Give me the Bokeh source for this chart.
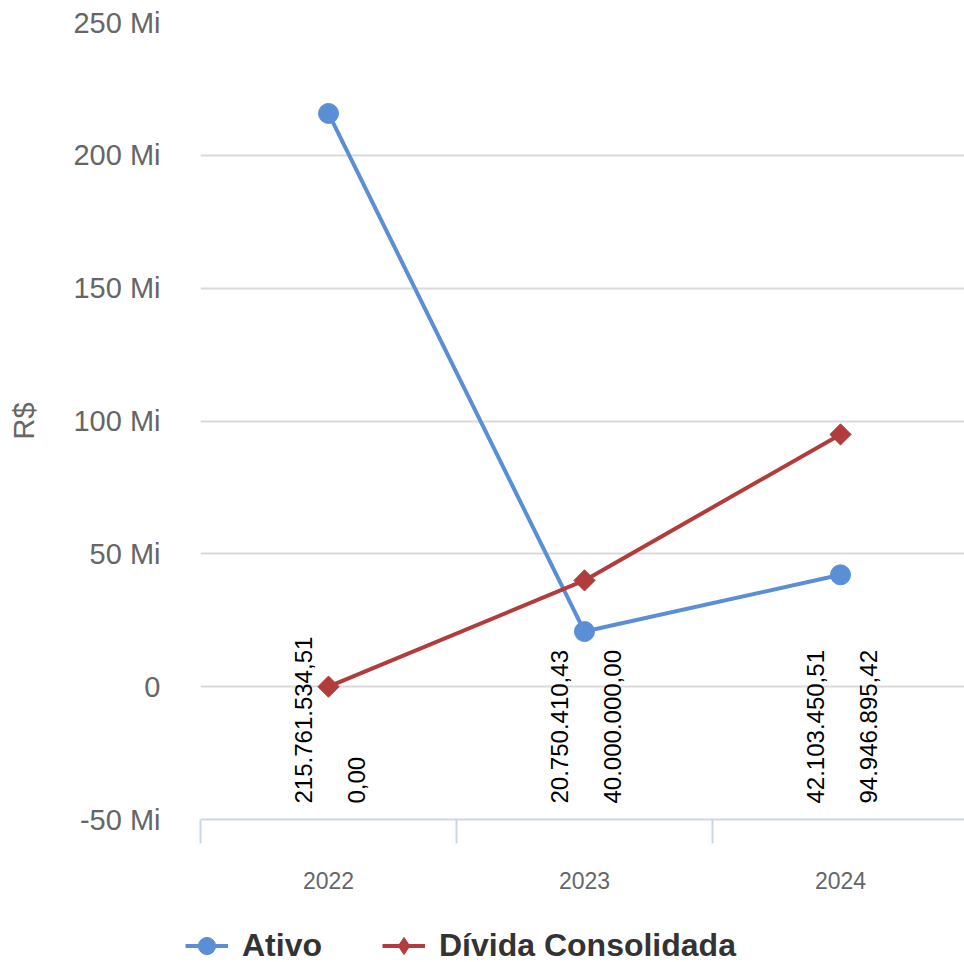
import math
from bokeh.plotting import figure
from bokeh.layouts import column, row
from bokeh.models import (Range1d, FixedTicker, Legend, LegendItem)
from bokeh.core.properties import value
from bokeh.embed import file_html
from bokeh.resources import INLINE

# ---- data ----
categories = ["2022", "2023", "2024"]
ativo = [215761534.51, 20750410.43, 42103450.51]
divida = [0.00, 40000000.00, 94946895.42]
series_names = ["Ativo", "Dívida Consolidada"]
y_ticks = [-50e6, 0, 50e6, 100e6, 150e6, 200e6, 250e6]
y_tick_labels = ["-50 Mi", "0", "50 Mi", "100 Mi", "150 Mi", "200 Mi", "250 Mi"]
y_title = "R$"


def br(v):
    s = f"{v:,.2f}"
    return s.replace(",", "X").replace(".", ",").replace("X", ".")


FONT = "Liberation Sans"
BLUE = "#5a8ed5"
RED = "#b23c3c"
GREY = "#666666"

xs = [i + 0.5 for i in range(len(categories))]
n = len(categories)

MAIN_H = 895
LEG_H = 962 - MAIN_H

p = figure(width=964, height=MAIN_H, output_backend="svg", toolbar_location=None,
           x_range=Range1d(0, n * 764 / 768), y_range=Range1d(y_ticks[0], y_ticks[-1]),
           min_border_left=200, min_border_right=0, min_border_top=22,
           min_border_bottom=MAIN_H - 819)
p.outline_line_color = None
p.background_fill_color = "white"
p.border_fill_color = "white"

# axes
xa = p.xaxis[0]
xa.ticker = FixedTicker(ticks=xs, minor_ticks=list(range(n + 1)))
xa.major_label_overrides = {x: c for x, c in zip(xs, categories)}
xa.major_tick_line_color = None
xa.major_tick_out = 0
xa.major_tick_in = 0
xa.minor_tick_out = 24
xa.minor_tick_in = 0
xa.minor_tick_line_color = "#ccd6eb"
xa.minor_tick_line_width = 2
xa.axis_line_color = "#ccd6eb"
xa.axis_line_width = 2
xa.major_label_text_font = FONT
xa.major_label_text_font_size = "23px"
xa.major_label_text_color = GREY
xa.major_label_standoff = 28

ya = p.yaxis[0]
ya.ticker = FixedTicker(ticks=y_ticks)
ya.major_label_overrides = {t: l for t, l in zip(y_ticks, y_tick_labels)}
ya.axis_line_color = None
ya.major_tick_line_color = None
ya.minor_tick_line_color = None
ya.major_tick_out = 0
ya.major_tick_in = 0
ya.major_label_standoff = 40
ya.major_label_text_font = FONT
ya.major_label_text_font_size = "29px"
ya.major_label_text_color = GREY
ya.axis_label = y_title
ya.axis_label_text_font = FONT
ya.axis_label_text_font_size = "29px"
ya.axis_label_text_font_style = "normal"
ya.axis_label_text_color = GREY
ya.axis_label_standoff = 30

p.xgrid.grid_line_color = None
p.ygrid.ticker = FixedTicker(ticks=y_ticks)
p.ygrid.grid_line_color = "#d9d9d9"
p.ygrid.grid_line_width = 2

# series
p.line(xs, ativo, line_color=BLUE, line_width=4)
p.scatter(xs, ativo, marker="circle", size=20, fill_color=BLUE, line_color=BLUE)
p.line(xs, divida, line_color=RED, line_width=4)
p.scatter(xs, divida, marker="square", angle=math.pi / 4, size=15,
          fill_color=RED, line_color=RED)

# data labels (rotated, anchored near the bottom)
base = [y_ticks[0]] * n
p.text(x=xs, y=base, text=[br(v) for v in ativo], angle=math.pi / 2,
       text_align="left", text_baseline="middle", x_offset=-25, y_offset=-16,
       text_font=value(FONT), text_font_size="24px", text_color="black")
p.text(x=xs, y=base, text=[br(v) for v in divida], angle=math.pi / 2,
       text_align="left", text_baseline="middle", x_offset=28, y_offset=-16,
       text_font=value(FONT), text_font_size="24px", text_color="black")

# legend strip below the chart (series renderers kept outside its visible range)
lg = figure(width=964, height=LEG_H, output_backend="svg", toolbar_location=None,
            x_range=Range1d(-20, -19), y_range=Range1d(-20, -19),
            x_axis_type=None, y_axis_type=None, min_border=0)
lg.outline_line_color = None
lg.grid.visible = False
r1 = lg.line(xs, ativo, line_color=BLUE, line_width=4)
s1 = lg.scatter(xs, ativo, marker="circle", fill_color=BLUE, line_color=BLUE)
r2 = lg.line(xs, divida, line_color=RED, line_width=4)
s2 = lg.scatter(xs, divida, marker="diamond", fill_color=RED, line_color=RED)

legend = Legend(items=[LegendItem(label=series_names[0], renderers=[r1, s1]),
                       LegendItem(label=series_names[1], renderers=[r2, s2])],
                orientation="horizontal", location=(185, -6),
                glyph_width=43, glyph_height=45, label_standoff=14, spacing=60,
                padding=0, margin=0, border_line_color=None, background_fill_alpha=0,
                label_text_font=FONT, label_text_font_size="32px",
                label_text_font_style="bold", label_text_color="#333333")
lg.add_layout(legend)

layout = column(p, row(lg), spacing=0)
open("out.html", "w").write(file_html(layout, INLINE))
